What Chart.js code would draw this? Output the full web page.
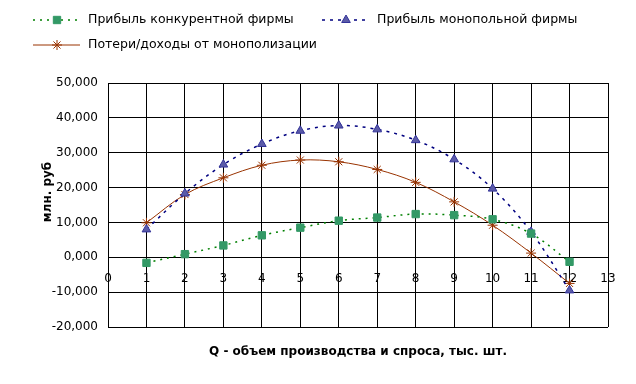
<!DOCTYPE html>
<html>
<head>
<meta charset="utf-8">
<script src="https://cdn.jsdelivr.net/npm/chart.js@4/dist/chart.umd.min.js"></script>
<style>
  body { margin: 0; background: #fff; }
  canvas { display: block; }
</style>
</head>
<body>
<canvas id="myChart" width="636" height="384"></canvas>
<script>
// Q - объем производства, тыс. шт.
const qValues = [1, 2, 3, 4, 5, 6, 7, 8, 9, 10, 11, 12];

// млн. руб
const competitiveProfit = [-1.6, 0.9, 3.4, 6.3, 8.5, 10.5, 11.4, 12.4, 12.1, 10.9, 6.8, -1.3];
const monopolyProfit = [8.0, 18.3, 26.6, 32.5, 36.3, 37.8, 36.7, 33.6, 28.1, 19.7, 7.3, -9.5];
const monopolyLoss = [9.9, 18.0, 22.8, 26.4, 27.9, 27.4, 25.2, 21.5, 15.9, 9.2, 1.2, -7.5];

const seriesNames = [
  'Прибыль конкурентной фирмы',
  'Прибыль монопольной фирмы',
  'Потери/доходы от монополизации',
];
const xTitle = 'Q - объем производства и спроса, тыс. шт.';
const yTitle = 'млн. руб';

const toPoints = (values) => values.map((v, i) => ({ x: qValues[i], y: v }));

const datasets = [
  {
    label: seriesNames[0],
    data: toPoints(competitiveProfit),
    borderColor: '#008000',
    borderWidth: 1.5,
    borderDash: [2, 5],
    pointStyle: 'rect',
    pointRadius: 5.2,
    pointBackgroundColor: '#339966',
    pointBorderColor: '#339966',
    pointBorderWidth: 1,
  },
  {
    label: seriesNames[1],
    data: toPoints(monopolyProfit),
    borderColor: '#000080',
    borderWidth: 1.5,
    borderDash: [3, 5],
    pointStyle: 'triangle',
    pointRadius: 5,
    pointBackgroundColor: '#5b5ba8',
    pointBorderColor: '#333399',
    pointBorderWidth: 1,
  },
  {
    label: seriesNames[2],
    data: toPoints(monopolyLoss),
    borderColor: '#993300',
    borderWidth: 1,
    pointStyle: 'star',
    pointRadius: 5,
    pointBackgroundColor: '#993300',
    pointBorderColor: '#993300',
    pointBorderWidth: 1,
  },
];

// легенда и подписи осей рисуем сами
const extrasPlugin = {
  id: 'extras',
  afterDraw(chart) {
    const ctx = chart.ctx;
    const items = [
      { ds: datasets[0], x: 33, y: 20 },
      { ds: datasets[1], x: 322, y: 20 },
      { ds: datasets[2], x: 33, y: 45 },
    ];
    ctx.save();
    items.forEach((it) => {
      ctx.beginPath();
      ctx.setLineDash(it.ds.borderDash || []);
      ctx.strokeStyle = it.ds.borderColor;
      ctx.lineWidth = it.ds.borderWidth;
      ctx.moveTo(it.x, it.y);
      ctx.lineTo(it.x + 47, it.y);
      ctx.stroke();
      ctx.setLineDash([]);
      ctx.fillStyle = it.ds.pointBackgroundColor;
      ctx.strokeStyle = it.ds.pointBorderColor;
      ctx.lineWidth = it.ds.pointBorderWidth;
      Chart.helpers.drawPoint(ctx, {
        pointStyle: it.ds.pointStyle,
        radius: it.ds.pointRadius,
        rotation: 0,
        borderWidth: it.ds.pointBorderWidth,
      }, it.x + 24, it.y);
      ctx.fillStyle = '#000';
      ctx.font = '12.5px "DejaVu Sans"';
      ctx.textBaseline = 'middle';
      ctx.textAlign = 'left';
      ctx.fillText(it.ds.label, it.x + 55, it.y);
    });

    ctx.font = 'bold 12px "DejaVu Sans"';
    ctx.fillStyle = '#000';
    ctx.textAlign = 'center';
    ctx.textBaseline = 'middle';
    ctx.fillText(xTitle, 358, 352);

    ctx.translate(48, 192);
    ctx.rotate(-Math.PI / 2);
    ctx.fillText(yTitle, 0, 0);
    ctx.restore();
  },
};

const ctx = document.getElementById('myChart').getContext('2d');
const chart = new Chart(ctx, {
  type: 'line',
  data: { datasets },
  options: {
    responsive: false,
    animation: false,
    devicePixelRatio: 1,
    layout: { padding: { left: 0, right: 28, top: 83, bottom: 57 } },
    elements: { line: { tension: 0.35 } },
    plugins: {
      legend: { display: false },
      tooltip: { enabled: false },
    },
    scales: {
      x: {
        type: 'linear',
        position: { y: 0 },
        min: 0,
        max: 13,
        ticks: {
          stepSize: 1,
          padding: 14,
          color: '#000',
          font: { family: 'DejaVu Sans', size: 12 },
        },
        grid: { color: '#000', drawTicks: false },
        border: { color: '#000' },
      },
      y: {
        min: -20,
        max: 50,
        ticks: {
          stepSize: 10,
          padding: 10,
          color: '#000',
          font: { family: 'DejaVu Sans', size: 12 },
          callback: (v) => v.toFixed(3).replace('.', ','),
        },
        grid: { color: '#000', drawTicks: false },
        border: { color: '#000' },
        afterFit: (scale) => { scale.width = 108; },
      },
    },
  },
  plugins: [extrasPlugin],
});
</script>
</body>
</html>
